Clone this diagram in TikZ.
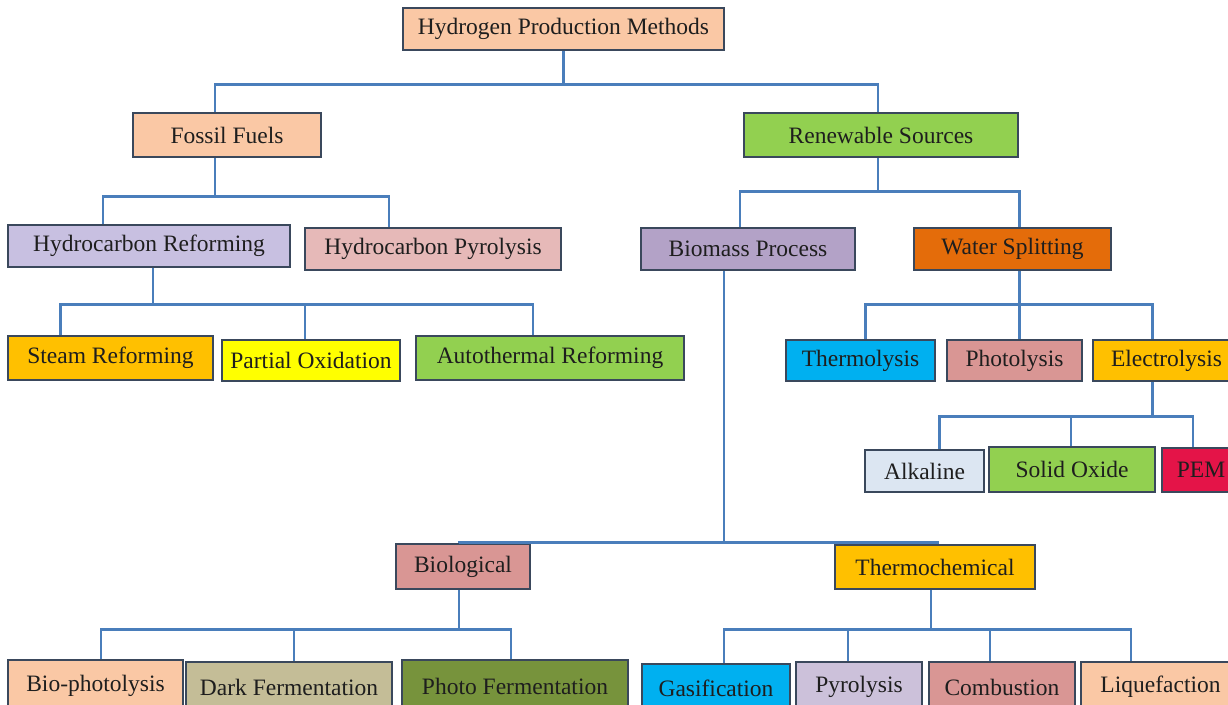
\documentclass[tikz,border=0pt]{standalone}
\usepackage{fontspec}
\setmainfont{Liberation Serif}
\definecolor{peach}{RGB}{250,200,165}
\definecolor{green1}{RGB}{146,208,80}
\definecolor{lav}{RGB}{200,192,225}
\definecolor{pinkish}{RGB}{230,185,184}
\definecolor{purp}{RGB}{179,162,199}
\definecolor{orng}{RGB}{228,108,10}
\definecolor{amber}{RGB}{255,192,0}
\definecolor{yell}{RGB}{255,255,0}
\definecolor{cyanb}{RGB}{0,176,240}
\definecolor{rose}{RGB}{217,150,148}
\definecolor{paleblue}{RGB}{220,230,242}
\definecolor{crimson}{RGB}{228,20,72}
\definecolor{khaki}{RGB}{196,189,151}
\definecolor{olive}{RGB}{119,147,60}
\definecolor{lilac}{RGB}{204,193,218}
\definecolor{boxline}{RGB}{58,72,92}
\definecolor{linkblue}{RGB}{74,126,187}
\definecolor{txt}{RGB}{30,30,30}
\begin{document}
\begin{tikzpicture}[x=1pt,y=-1pt,
  box/.style={draw=boxline, line width=2.6pt, inner sep=0pt, text=txt,
    font=\fontsize{23.5}{27}\selectfont},
  conn/.style={draw=linkblue, line width=2.6pt}]
\useasboundingbox (0,0) rectangle (1228,704);
\clip (0,0) rectangle (1228,704);
% nodes
\node[box, fill=peach, minimum width=321pt, minimum height=42pt] (root) at (563.5,29) {Hydrogen Production Methods};
\node[box, fill=peach, minimum width=188pt, minimum height=44pt] (ff) at (227,135) {Fossil Fuels};
\node[box, fill=green1, minimum width=274pt, minimum height=44pt] (rs) at (881,135) {Renewable Sources};
\node[box, fill=lav, minimum width=282pt, minimum height=42pt] (hr) at (149,246) {Hydrocarbon Reforming};
\node[box, fill=pinkish, minimum width=256pt, minimum height=42pt] (hp) at (433,249) {Hydrocarbon Pyrolysis};
\node[box, fill=purp, minimum width=214pt, minimum height=42pt] (bp) at (748,249) {Biomass Process};
\node[box, fill=orng, minimum width=197pt, minimum height=42pt] (ws) at (1012.5,249) {Water Splitting};
\node[box, fill=amber, minimum width=205pt, minimum height=44pt] (sr) at (110.5,358) {Steam Reforming};
\node[box, fill=yell, minimum width=178pt, minimum height=41pt] (po) at (311,360.5) {Partial Oxidation};
\node[box, fill=green1, minimum width=268pt, minimum height=44pt] (at) at (550,358) {Autothermal Reforming};
\node[box, fill=cyanb, minimum width=149pt, minimum height=41pt] (th) at (860.5,360.5) {Thermolysis};
\node[box, fill=rose, minimum width=135pt, minimum height=41pt] (ph) at (1014.5,360.5) {Photolysis};
\node[box, fill=amber, minimum width=147pt, minimum height=41pt] (el) at (1166.5,360.5) {Electrolysis};
\node[box, fill=paleblue, minimum width=119pt, minimum height=42pt] (al) at (924.5,471) {Alkaline};
\node[box, fill=green1, minimum width=166pt, minimum height=45pt] (so) at (1072,469.5) {Solid Oxide};
\node[box, fill=crimson, minimum width=78pt, minimum height=44pt] (pem) at (1201,470) {PEM};
\node[box, fill=rose, minimum width=134pt, minimum height=45pt] (bio) at (463,566.5) {Biological};
\node[box, fill=amber, minimum width=200pt, minimum height=44pt] (tc) at (935,567) {Thermochemical};
\node[box, fill=peach, minimum width=175pt, minimum height=52pt] (bph) at (95.5,686) {Bio-photolysis};
\node[box, fill=khaki, minimum width=206pt, minimum height=50pt] (df) at (289,687) {Dark Fermentation};
\node[box, fill=olive, minimum width=226pt, minimum height=52pt] (pf) at (515,686) {Photo Fermentation};
\node[box, fill=cyanb, minimum width=148pt, minimum height=48pt] (gas) at (716,688) {Gasification};
\node[box, fill=lilac, minimum width=126pt, minimum height=50pt] (pyr) at (859,687) {Pyrolysis};
\node[box, fill=rose, minimum width=146pt, minimum height=50pt] (com) at (1002,687) {Combustion};
\node[box, fill=peach, minimum width=159pt, minimum height=50pt] (liq) at (1160.5,687) {Liquefaction};
% connectors
\draw[conn] (root.south) -- ++(0,33) coordinate (b1);
\draw[conn] (b1) -| ([xshift=-12pt]ff.north);
\draw[conn] (b1) -| ([xshift=-3pt]rs.north);
\draw[conn] ([xshift=-12pt]ff.south) -- ++(0,38) coordinate (b2);
\draw[conn] (b2) -| ([xshift=-46pt]hr.north);
\draw[conn] (b2) -| ([xshift=-44pt]hp.north);
\draw[conn] ([xshift=-3pt]rs.south) -- ++(0,33) coordinate (b3);
\draw[conn] (b3) -| ([xshift=-8pt]bp.north);
\draw[conn] (b3) -| ([xshift=7pt]ws.north);
\draw[conn] ([xshift=4pt]hr.south) -- ++(0,36) coordinate (b4);
\draw[conn] (b4) -| ([xshift=-50pt]sr.north);
\draw[conn] (b4) -| ([xshift=-6pt]po.north);
\draw[conn] (b4) -| ([xshift=-17pt]at.north);
\draw[conn] ([xshift=7pt]ws.south) -- ++(0,33) coordinate (b5);
\draw[conn] (b5) -| ([xshift=5pt]th.north);
\draw[conn] (b5) -| ([xshift=5pt]ph.north);
\draw[conn] (b5) -| ([xshift=-14pt]el.north);
\draw[conn] ([xshift=-14pt]el.south) -- ++(0,34) coordinate (b6);
\draw[conn] (b6) -| ([xshift=15pt]al.north);
\draw[conn] (b6) -| ([xshift=-1pt]so.north);
\draw[conn] (b6) -| ([xshift=-8pt]pem.north);
\draw[conn] ([xshift=-24pt]bp.south) -- ++(0,271) coordinate (b7);
\draw[conn] (b7) -| ([xshift=-4pt]bio.north);
\draw[conn] (b7) -| ([xshift=3pt]tc.north);
\draw[conn] ([xshift=-4pt]bio.south) -- ++(0,39) coordinate (b8);
\draw[conn] (b8) -| ([xshift=5.5pt]bph.north);
\draw[conn] (b8) -| ([xshift=5pt]df.north);
\draw[conn] (b8) -| ([xshift=-4pt]pf.north);
\draw[conn] ([xshift=-4pt]tc.south) -- ++(0,39) coordinate (b9);
\draw[conn] (b9) -| ([xshift=8pt]gas.north);
\draw[conn] (b9) -| ([xshift=-11pt]pyr.north);
\draw[conn] (b9) -| ([xshift=-12pt]com.north);
\draw[conn] (b9) -| ([xshift=-29.5pt]liq.north);
\end{tikzpicture}
\end{document}
